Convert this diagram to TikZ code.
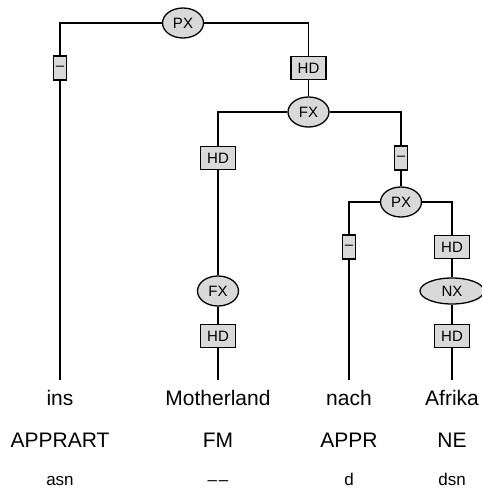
\documentclass[tikz,border=0pt]{standalone}
\usepackage{fontspec}
\setmainfont{Liberation Sans}
\usepackage{tikz}
\usetikzlibrary{shapes.geometric}
\definecolor{treeGray}{HTML}{D9D9D9}

\begin{document}
\begin{tikzpicture}[x=1pt, y=-1pt, line width=1.3pt,
  cat/.style={draw, ellipse, fill=treeGray, inner sep=0pt, minimum width=41pt, minimum height=30pt, font=\fontsize{15}{17}\selectfont},
  fn/.style={draw, rectangle, fill=treeGray, inner sep=0pt, minimum width=35pt, minimum height=23pt, font=\fontsize{15}{17}\selectfont},
  dashbox/.style={fn, minimum width=13pt, minimum height=24pt},
  word/.style={anchor=base, inner xsep=0pt, inner ysep=8pt, text height=16pt, font=\fontsize{21}{25}\selectfont},
  postag/.style={anchor=base, font=\fontsize{21}{25}\selectfont},
  morph/.style={anchor=base, font=\fontsize{17}{20}\selectfont}]
  \useasboundingbox (0,0) rectangle (481,489);

  % tree
  \node[cat] (px1) at (183,23) {PX};
  \node[dashbox] (d1) at (60,68) {–};
  \node[fn] (hd1) at (308.5,68) {HD};
  \node[cat] (fx1) at (308.5,112) {FX};
  \node[fn] (hd2) at (218,158) {HD};
  \node[dashbox] (d2) at (401,158) {–};
  \node[cat] (px2) at (401,202) {PX};
  \node[dashbox] (d3) at (349,247) {–};
  \node[fn] (hd3) at (452,247) {HD};
  \node[cat] (fx2) at (218,291) {FX};
  \node[cat, minimum width=64pt, minimum height=26pt] (nx) at (452,291) {NX};
  \node[fn] (hd4) at (218,336) {HD};
  \node[fn] (hd5) at (452,336) {HD};

  % words
  \node[word] (w1) at (60,405) {ins};
  \node[word] (w2) at (218,405) {Motherland};
  \node[word] (w3) at (349,405) {nach};
  \node[word] (w4) at (452,405) {Afrika};

  \node[postag] (t1) at (60,447) {APPRART};
  \node[postag] (t2) at (218,447) {FM};
  \node[postag] (t3) at (349,447) {APPR};
  \node[postag] (t4) at (452,447) {NE};

  \node[morph] (m1) at (60,485) {asn};
  \node[morph] (m2) at (218,485) {–\hspace{2pt}–};
  \node[morph] (m3) at (349,485) {d};
  \node[morph] (m4) at (452,485) {dsn};

  \draw (px1) -| (d1);
  \draw (d1) -- (w1.north);
  \draw (px1) -| (hd1);
  \draw (hd1) -- (fx1);
  \draw (fx1) -| (hd2);
  \draw (hd2) -- (fx2);
  \draw (fx2) -- (hd4);
  \draw (hd4) -- (w2.north);
  \draw (fx1) -| (d2);
  \draw (d2) -- (px2);
  \draw (px2) -| (d3);
  \draw (d3) -- (w3.north);
  \draw (px2) -| (hd3);
  \draw (hd3) -- (nx);
  \draw (nx) -- (hd5);
  \draw (hd5) -- (w4.north);
\end{tikzpicture}
\end{document}
